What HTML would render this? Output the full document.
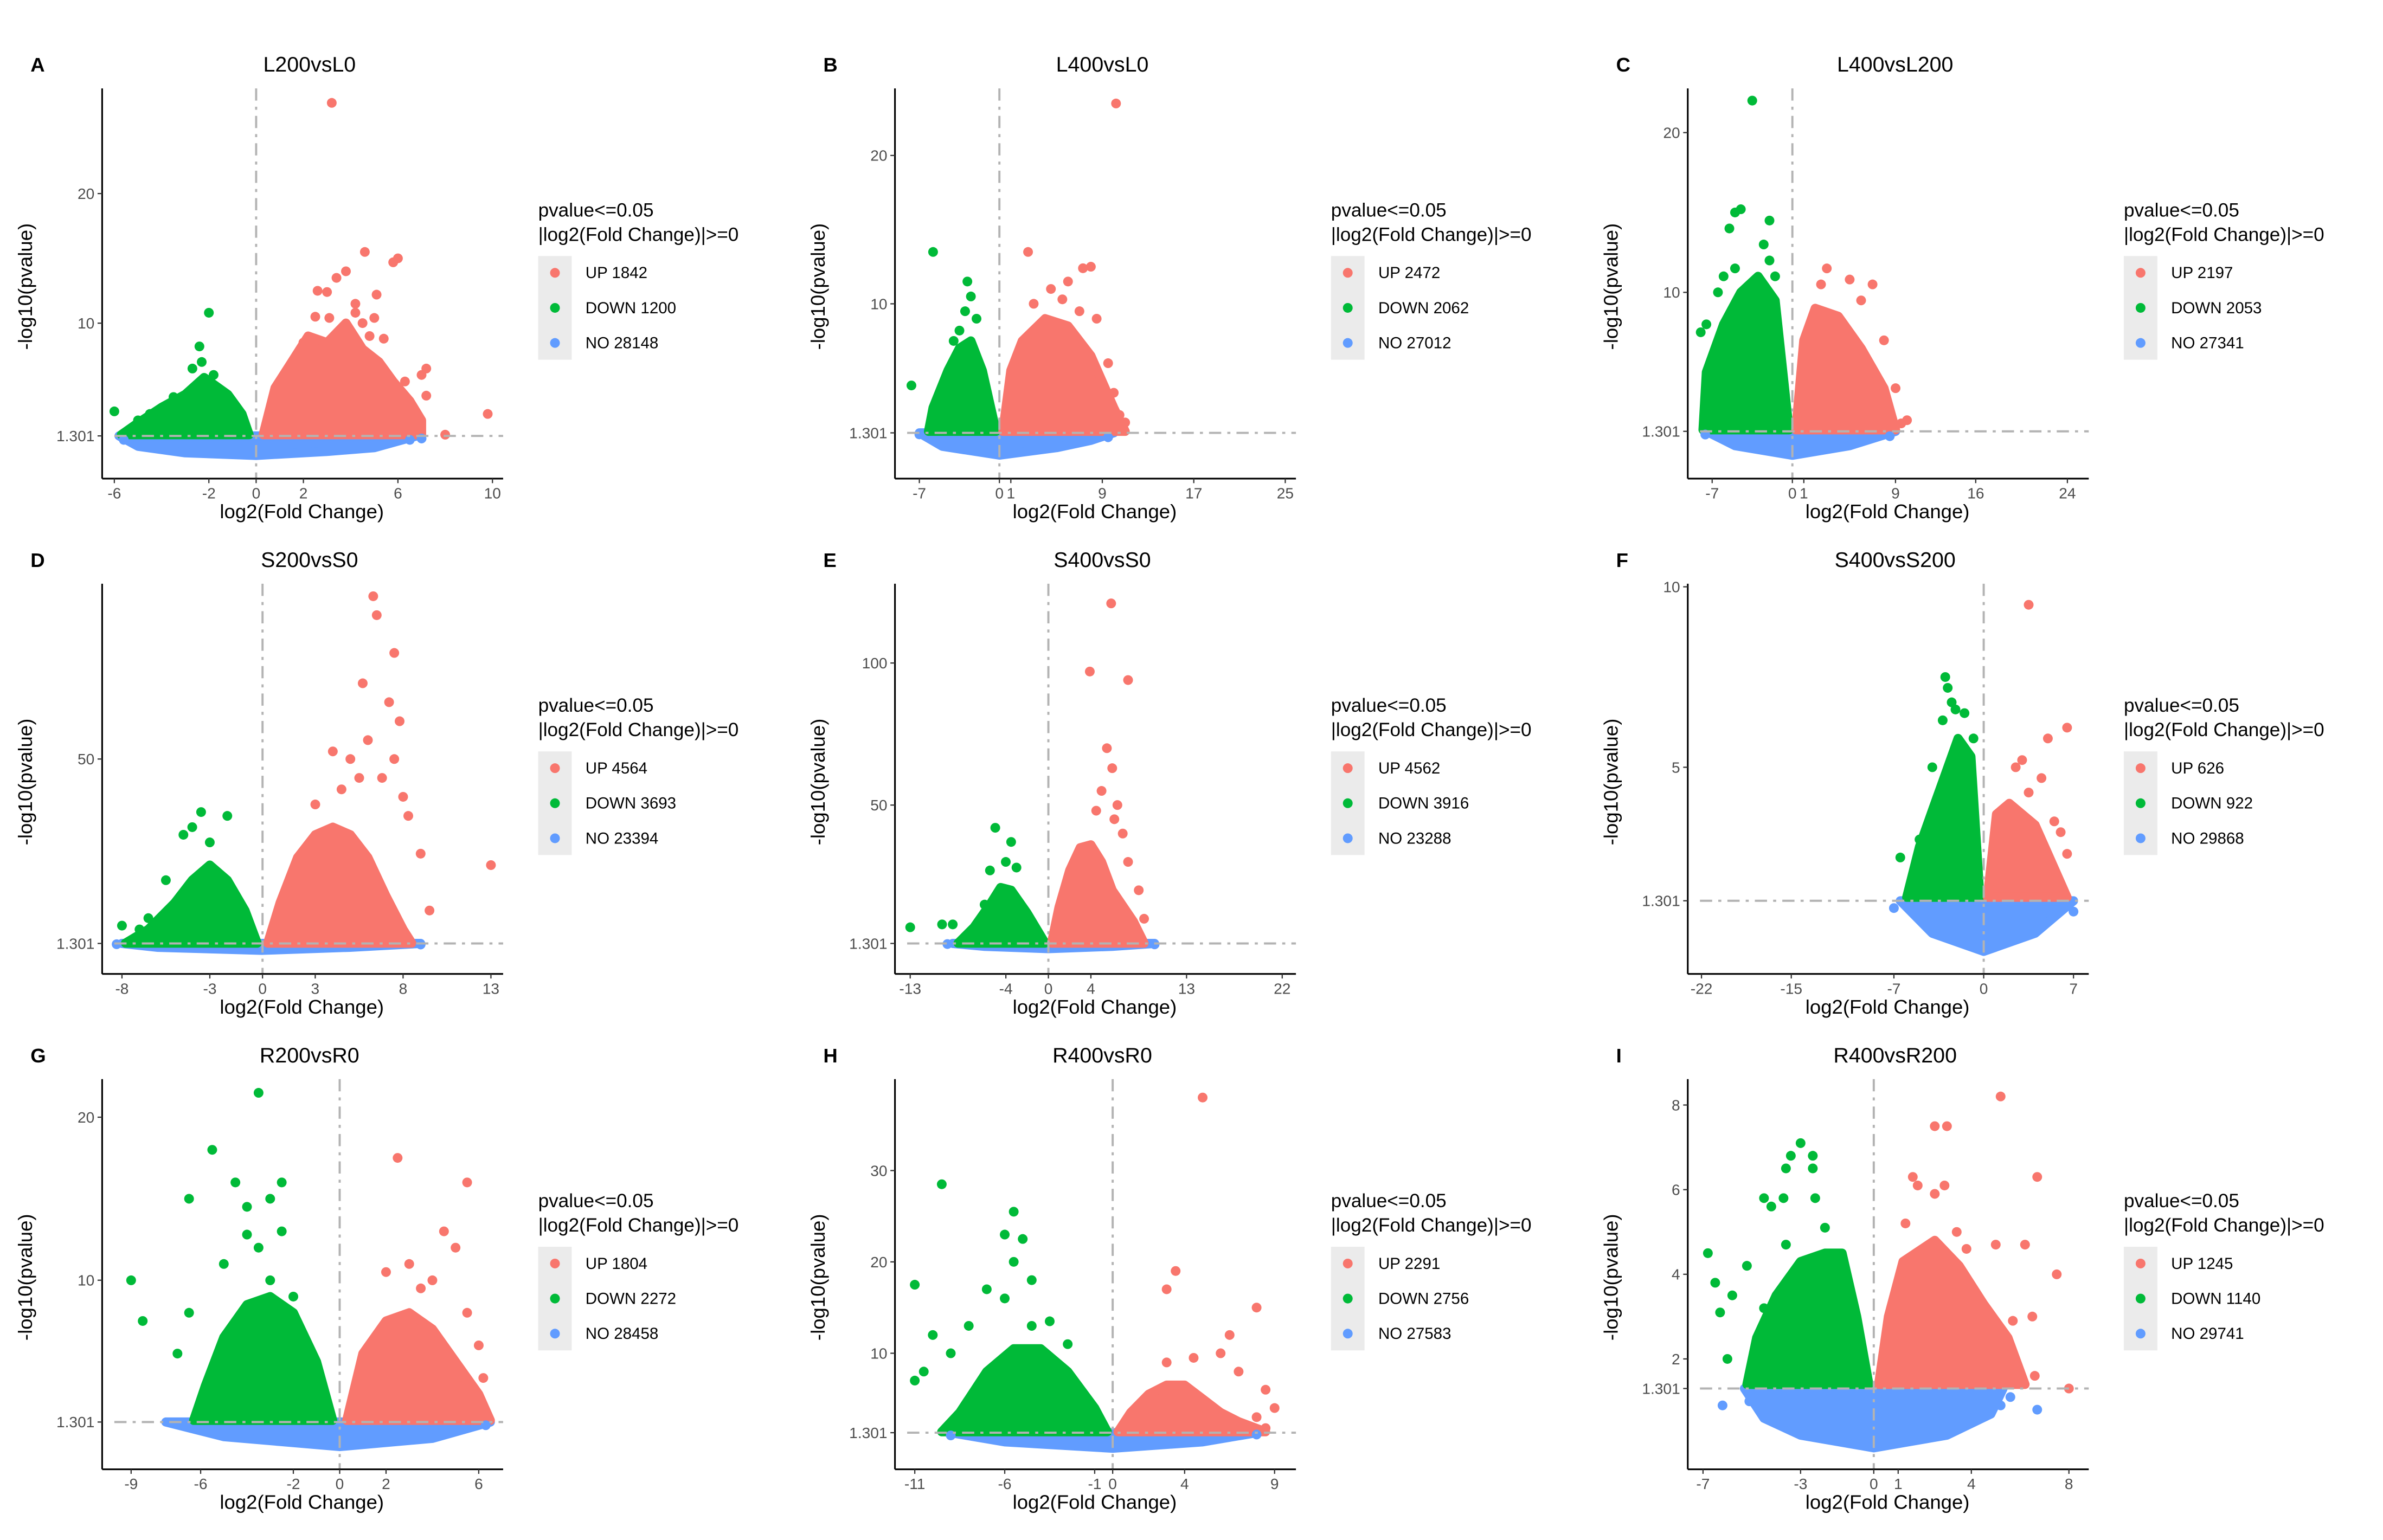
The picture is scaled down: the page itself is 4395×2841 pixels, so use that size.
<!DOCTYPE html>
<html><head><meta charset="utf-8"><title>Volcano plots</title>
<style>
html,body{margin:0;padding:0;background:#fff;}
svg{display:block;font-family:"Liberation Sans",Arial,sans-serif;}
</style></head>
<body>
<svg id="fig" xmlns="http://www.w3.org/2000/svg" width="4395" height="2841" viewBox="0 0 1563 1010.4" preserveAspectRatio="none"></svg>
<script>
// ---------- data (log2FC, -log10 p) ----------
const panelTitles = ["L200vsL0","L400vsL0","L400vsL200","S200vsS0","S400vsS0","S400vsS200","R200vsR0","R400vsR0","R400vsR200"];
const panelLetters = ["A","B","C","D","E","F","G","H","I"];
const upCounts = [1842,2472,2197,4564,4562,626,1804,2291,1245];
const downCounts = [1200,2062,2053,3693,3916,922,2272,2756,1140];
const noCounts = [28148,27012,27341,23394,23288,29868,28458,27583,29741];
const xTickLabels = [[-6,-2,0,2,6,10],[-7,0,1,9,17,25],[-7,0,1,9,16,24],[-8,-3,0,3,8,13],[-13,-4,0,4,13,22],[-22,-15,-7,0,7],[-9,-6,-2,0,2,6],[-11,-6,-1,0,4,9],[-7,-3,0,1,4,8]];
const yTickLabels = [[1.301,10,20],[1.301,10,20],[1.301,10,20],[1.301,50],[1.301,50,100],[1.301,5,10],[1.301,10,20],[1.301,10,20,30],[1.301,2,4,6,8]];

const downClouds = [
 [[-5.7,1.4],[-5,2.3],[-4,3.5],[-3,4.5],[-2.2,5.8],[-1.2,4.5],[-0.6,3],[-0.3,1.4]],
 [[-6.2,1.4],[-5.8,3],[-4.5,5.5],[-3.5,7],[-2.5,7.5],[-1.5,5.5],[-0.3,1.4]],
 [[-7.8,1.4],[-7.5,5],[-6,8],[-4.5,10],[-3,11],[-1.5,9.5],[-0.3,1.4]],
 [[-7.8,1.4],[-6.5,5],[-5,12],[-4,18],[-3,22],[-2,18],[-1,10],[-0.3,1.4]],
 [[-8.5,1.4],[-7,7],[-5.5,15],[-4.5,21],[-3.5,20],[-2,12],[-0.3,1.4]],
 [[-6,1.4],[-5,2.8],[-4,3.8],[-3,4.8],[-2,5.8],[-1,5.3],[-0.3,1.4]],
 [[-6.3,1.4],[-5.8,3.5],[-5,6.5],[-4,8.5],[-3,9],[-2,8],[-1,5],[-0.3,1.4]],
 [[-9.5,1.4],[-8.5,3.5],[-7,8],[-5.5,10.5],[-4,10.5],[-2.5,8],[-1,4],[-0.3,1.4]],
 [[-5.2,1.4],[-4.8,2.5],[-4,3.5],[-3,4.3],[-2,4.5],[-1.3,4.5],[-0.7,3],[-0.2,1.4]]
];
const upClouds = [
 [[0.3,1.4],[0.8,5],[1.5,7],[2.2,9],[3,8.5],[3.8,10],[4.5,8],[5.2,7],[5.8,5.5],[6.5,4],[7,2.5],[7,1.4]],
 [[0.3,1.4],[1,5.5],[2,7.5],[4,9],[6,8.5],[8,6.5],[10,3],[11,1.4]],
 [[0.3,1.4],[1,7],[2,9],[4,8.5],[6,6.5],[8,4],[9,1.4]],
 [[0.3,1.4],[1,12],[2,24],[3,30],[4,32],[5,30],[6,24],[7,14],[8,5],[8.5,1.4]],
 [[0.3,1.4],[1,14],[2,27],[3,35],[4,36],[5,30],[6,20],[8,9],[9,1.4]],
 [[0.3,1.4],[1,3.7],[2,4],[4,3.4],[5,2.6],[6.5,1.4]],
 [[0.3,1.4],[1,5.5],[2,7.5],[3,8],[4,7],[5,5],[6,3],[6.5,1.4]],
 [[0.3,1.4],[1,3.5],[2,5.5],[3,6.5],[4,6.5],[5,5],[6,3.5],[7,2.5],[8.5,1.4]],
 [[0.2,1.4],[0.6,3],[1.2,4.3],[2.5,4.8],[3.5,4.2],[4.5,3.3],[5.5,2.5],[6.2,1.4]]
];
const noClouds = [
 [[-5.8,1.3],[-5,0.5],[-3,0.0],[0,-0.2],[3,0.1],[5,0.4],[6,0.9],[6.8,1.3]],
 [[-7,1.3],[-5,0.4],[0,-0.2],[5,0.3],[8,0.8],[10,1.3]],
 [[-7.5,1.3],[-5,0.4],[0,-0.2],[5,0.4],[9,1.3]],
 [[-8,1.3],[-6,0.3],[0,-0.5],[5,0.3],[9,1.3]],
 [[-9,1.3],[-6,0.3],[0,-0.5],[6,0.3],[10,1.3]],
 [[-6.5,1.3],[-4,0.4],[0,-0.1],[4,0.4],[7,1.3]],
 [[-7.5,1.3],[-5,0.4],[0,-0.2],[4,0.3],[6.5,1.3]],
 [[-9,1.3],[-6,0.3],[0,-0.4],[5,0.3],[8,1.3]],
 [[-5.3,1.3],[-4.5,0.6],[-3,0.2],[0,-0.1],[3,0.2],[4.8,0.7],[5.3,1.3]]
];
const downPoints = [
 [[-6,3.2],[-2,10.8],[-2.4,8.2],[-2.7,6.5],[-3.5,4.3],[-4.5,3],[-5,2.5],[-2.3,7],[-1.8,6]],
 [[-5.8,13.5],[-2.8,11.5],[-2.5,10.5],[-3,9.5],[-2,9],[-7.7,4.5],[-4,7.5],[-3.5,8.2]],
 [[-3.5,22],[-5,15],[-4.5,15.2],[-2,14.5],[-5.5,14],[-2.5,13],[-2,12],[-5,11.5],[-6,11],[-7.5,8],[-8,7.5],[-6.5,10],[-1.5,11]],
 [[-3.5,36],[-2,35],[-4,32],[-4.5,30],[-3,28],[-5.5,18],[-6.5,8],[-8,6],[-7,5]],
 [[-5,42],[-3.5,37],[-4,30],[-3,28],[-5.5,27],[-6,15],[-9,8],[-10,8],[-13,7]],
 [[-3,7.5],[-2.8,7.2],[-2.5,6.8],[-2.2,6.6],[-1.5,6.5],[-3.2,6.3],[-4,5],[-6.5,2.5],[-5,3],[-0.8,5.8]],
 [[-3.5,21.5],[-5.5,18],[-6.5,15],[-4.5,16],[-2.5,16],[-3,15],[-4,14.5],[-2.5,13],[-4,12.8],[-3.5,12],[-5,11],[-9,10],[-8.5,7.5],[-7,5.5],[-6.5,8],[-3,10],[-2,9]],
 [[-9.5,28.5],[-5.5,25.5],[-6,23],[-5,22.5],[-5.5,20],[-4.5,18],[-7,17],[-6,16],[-11,17.5],[-10,12],[-9,10],[-8,13],[-4.5,13],[-3.5,13.5],[-10.5,8],[-11,7],[-2.5,11]],
 [[-3,7.1],[-2.5,6.8],[-2.5,6.5],[-3.4,6.8],[-3.6,6.5],[-3.7,5.8],[-4.5,5.8],[-4.2,5.6],[-6.8,4.5],[-6.5,3.8],[-5.8,3.5],[-6.3,3.1],[-5.2,4.2],[-4.5,3.2],[-2.4,5.8],[-2,5.1],[-3.6,4.7],[-6.0,2.0]]
];
const upPoints = [
 [[3.2,27],[4.6,15.5],[5.8,14.7],[6,15],[3.4,13.5],[3.8,14],[2.6,12.5],[3,12.4],[5.1,12.2],[4.2,11.5],[2.5,10.5],[3.1,10.4],[4.2,10.8],[4.5,10],[5,10.4],[3.5,9.2],[3.9,9.5],[4.8,9],[5.4,8.8],[7.2,6.5],[7,6],[6.3,5.5],[5.9,5],[9.8,3],[8,1.4],[7.2,4.4],[4.4,7.8],[2,8.5],[1.7,6]],
 [[10.2,23.5],[2.5,13.5],[7.3,12.4],[8,12.5],[6,11.5],[4.5,11],[5.5,10.3],[8.5,9],[9.5,6],[10,4],[10.5,2.5],[11,2],[7,9.5],[3,10]],
 [[3,11.5],[2.5,10.5],[5,10.8],[7,10.5],[6,9.5],[8,7],[9,4],[10,2],[9.5,1.8]],
 [[6.3,93],[6.5,88],[7.5,78],[7.2,65],[5.7,70],[7.8,60],[6,55],[4,52],[5,50],[7.5,50],[5.5,45],[8,40],[8.3,35],[9,25],[9.5,10],[13,22],[4.5,42],[3,38],[6.8,45]],
 [[5.9,121],[3.9,97],[7.5,94],[5.5,70],[6,63],[5,55],[6.5,50],[4.5,48],[7,40],[7.5,30],[8.5,20],[9,10],[6.2,45]],
 [[3.5,9.5],[6.5,6.1],[5,5.8],[3,5.2],[2.5,5],[4.5,4.7],[3.5,4.3],[5.5,3.5],[6,3.2],[6.5,2.6]],
 [[2.5,17.5],[5.5,16],[4.5,13],[5,12],[3,11],[4,10],[2,10.5],[3.5,9.5],[5.5,8],[6,6],[6.2,4],[5.2,3.5]],
 [[5,38],[3.5,19],[3,17],[8,15],[6.5,12],[6,10],[4.5,9.5],[3,9],[7,8],[8.5,6],[9,4],[8,3],[8.5,1.8]],
 [[5.2,8.2],[2.5,7.5],[3,7.5],[1.6,6.3],[1.8,6.1],[6.7,6.3],[2.9,6.1],[2.5,5.9],[1.3,5.2],[3.4,5],[5,4.7],[6.2,4.7],[7.5,4],[6.5,3],[8,1.3],[6.6,1.6],[5.7,2.9],[3.8,4.6]]
];
const noPoints = [
 [[6.5,1.0],[7,1.1],[-5.6,1.0]],
 [[-7,1.2],[9.5,1.0]],
 [[-7.6,1.1],[8.5,1.0]],
 [[-8.3,1.1],[9,1.0]],
 [[-9.5,1.1],[10,1.0]],
 [[-7,1.1],[7,1.0]],
 [[-6.6,1.0],[6.3,1.1]],
 [[-9,1.0],[8,1.1]],
 [[-6.2,0.9],[-5.1,1.0],[5.6,1.1],[6.7,0.8],[5.2,0.9]]
];

// ---------- layout ----------
const COL_X = [67,587,1107];
const ROW_T = [42,367,692];
const xAnch = [[-6,8,10,256],[-7,16,25,256],[-7,16,24,249],[-8,13,13,255],[-13,10,22,254],[-22,9,7,253],[-9,19,6,247],[-11,13,9,249],[-7,10,8,250]];
const yAnch = [[1.301,244,20,85],[1.301,242,20,60],[1.301,241,20,45],[1.301,252,50,131],[1.301,252,100,68],[1.301,224,10,18],[1.301,241,20,41],[1.301,248,30,76],[1.301,219,8,33]];
const colors = {up:"#f8766d", down:"#00ba38", no:"#619cff"};
const NS = "http://www.w3.org/2000/svg";
const svg = document.getElementById('fig');
function mk(tag, attrs, parent){const e=document.createElementNS(NS,tag);for(const k in attrs)e.setAttribute(k,attrs[k]);(parent||svg).appendChild(e);return e;}

panelTitles.forEach((title,i)=>{
  const col=i%3,row=Math.floor(i/3);
  const L=COL_X[col], T=ROW_T[row];
  const g=mk('g',{});
  
  
  const xa=xAnch[i], ya=yAnch[i];
  const sx=v=>L+xa[1]+(v-xa[0])*(xa[3]-xa[1])/(xa[2]-xa[0]);
  const sy=v=>T+ya[1]+(v-ya[0])*(ya[3]-ya[1])/(ya[2]-ya[0]);
  const axTop=T+16, axBot=T+272, axL=L, axR=L+263;

  const letter=mk('text',{x:L-47,y:T+5,'font-size':13,'font-weight':'bold',fill:'#000'},g);
  letter.textContent=panelLetters[i];
  
  
  const tt=mk('text',{x:L+136,y:T+5,'font-size':14,'text-anchor':'middle',fill:'#000'},g);
  tt.textContent=title;
  
  

  const clouds=[[noClouds[i],colors.no,'no-cloud'],[downClouds[i],colors.down,'down-cloud'],[upClouds[i],colors.up,'up-cloud']];
  clouds.forEach(([pts,c,nm])=>{
    const p=mk('polygon',{points:pts.map(d=>sx(d[0]).toFixed(1)+','+sy(d[1]).toFixed(1)).join(' '),fill:c,stroke:c,'stroke-width':6,'stroke-linejoin':'round'},g);
    
    
  });
  const dots=[[noPoints[i],colors.no,'no-point'],[downPoints[i],colors.down,'down-point'],[upPoints[i],colors.up,'up-point']];
  dots.forEach(([pts,c,nm])=>{
    pts.forEach(d=>{
      const cc=mk('circle',{cx:sx(d[0]).toFixed(1),cy:sy(d[1]).toFixed(1),r:3.2,fill:c},g);
      
      
    });
  });
  const hl=mk('line',{x1:axL+8,x2:axR,y1:sy(1.301),y2:sy(1.301),stroke:'#b3b3b3','stroke-width':1.4,'stroke-dasharray':'8 4 2 4'},g);
  
  
  const vl=mk('line',{x1:sx(0),x2:sx(0),y1:axTop,y2:axBot,stroke:'#b3b3b3','stroke-width':1.4,'stroke-dasharray':'8 4 2 4'},g);
  
  
  const yax=mk('line',{x1:axL,x2:axL,y1:axTop,y2:axBot,stroke:'#000','stroke-width':1.1},g);
  
  
  const xax=mk('line',{x1:axL,x2:axR,y1:axBot,y2:axBot,stroke:'#000','stroke-width':1.1},g);
  
  
  xTickLabels[i].forEach(v=>{
    const x=sx(v);
    const tk=mk('line',{x1:x,x2:x,y1:axBot,y2:axBot+3,stroke:'#333','stroke-width':0.8},g);
    
    
    const tl=mk('text',{x:x,y:axBot+13,'font-size':10,'text-anchor':'middle',fill:'#4d4d4d'},g);
    tl.textContent=v;
    
    
  });
  yTickLabels[i].forEach(v=>{
    const y=sy(v);
    const tk=mk('line',{x1:axL-3,x2:axL,y1:y,y2:y,stroke:'#333','stroke-width':0.8},g);
    
    
    const tl=mk('text',{x:axL-5,y:y+3.5,'font-size':10,'text-anchor':'end',fill:'#4d4d4d'},g);
    tl.textContent=v;
    
    
  });
  const xl=mk('text',{x:L+131,y:T+298,'font-size':13,'text-anchor':'middle',fill:'#000'},g);
  xl.textContent='log2(Fold Change)';
  
  
  const ycx=L-46, ycy=T+146;
  const yl=mk('text',{x:ycx,y:ycy,'font-size':13,'text-anchor':'middle',fill:'#000',transform:`rotate(-90 ${ycx} ${ycy})`},g);
  yl.textContent='-log10(pvalue)';
  
  

  const lx=L+286;
  const lg=mk('g',{},g);
  
  
  const l1=mk('text',{x:lx,y:T+100,'font-size':12.5,fill:'#000'},lg);
  l1.textContent='pvalue<=0.05';
  
  
  const l2=mk('text',{x:lx,y:T+116,'font-size':12.5,fill:'#000'},lg);
  l2.textContent='|log2(Fold Change)|>=0';
  
  
  const bx=mk('rect',{x:lx,y:T+126,width:22,height:68,fill:'#ebebeb'},lg);
  
  
  const ents=[['UP '+upCounts[i],colors.up],['DOWN '+downCounts[i],colors.down],['NO '+noCounts[i],colors.no]];
  ents.forEach(([lab,c],k)=>{
    const y=T+137+k*23;
    const d=mk('circle',{cx:lx+11,cy:y,r:3.2,fill:c},lg);
    
    
    const t=mk('text',{x:lx+31,y:y+3.5,'font-size':10.5,fill:'#000'},lg);
    t.textContent=lab;
    
    
  });
});
</script>
</body></html>
